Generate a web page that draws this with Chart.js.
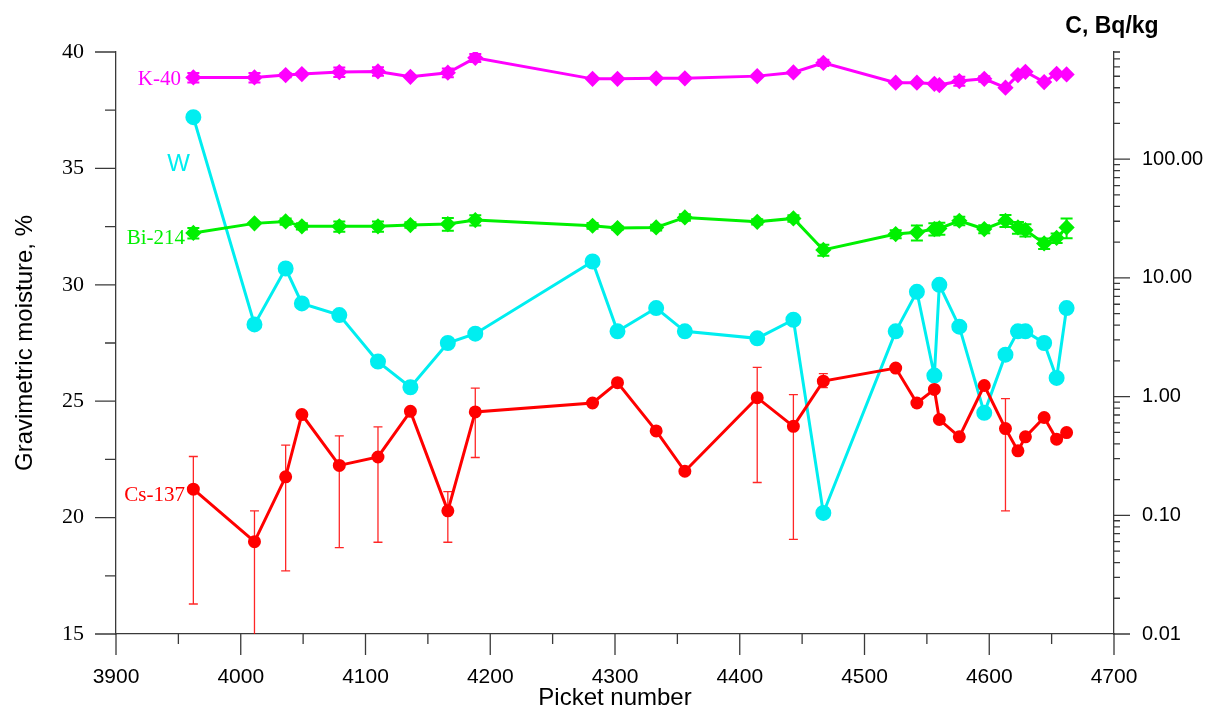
<!DOCTYPE html>
<html>
<head>
<meta charset="utf-8">
<script src="https://cdn.jsdelivr.net/npm/chart.js@4"></script>
<style>
  html, body { margin: 0; padding: 0; background: #fff; }
  #wrap { width: 1205px; height: 711px; }
</style>
</head>
<body>
<div id="wrap"><canvas id="chart" width="1205" height="711"></canvas></div>
<script>
// Picket numbers shared by all series
const pickets = [3962, 4011, 4036, 4049, 4079, 4110, 4136, 4166, 4188, 4282,
                 4302, 4333, 4356, 4414, 4443, 4467, 4525, 4542, 4556, 4560,
                 4576, 4596, 4613, 4623, 4629, 4644, 4654, 4662];

// Gravimetric moisture W, % (left axis)
const moisture = [37.2, 28.3, 30.7, 29.2, 28.7, 26.7, 25.6, 27.5, 27.9, 31.0,
                  28.0, 29.0, 28.0, 27.7, 28.5, 20.2, 28.0, 29.7, 26.1, 30.0,
                  28.2, 24.5, 27.0, 28.0, 28.0, 27.5, 26.0, 29.0];

// Cs-137, Bq/kg (right axis) with error limits (null = no bar)
const cs137   = [0.166, 0.060, 0.211, 0.706, 0.263, 0.310, 0.751, 0.109, 0.743, 0.883,
                 1.31, 0.514, 0.235, 0.980, 0.562, 1.35, 1.74, 0.883, 1.15, 0.641,
                 0.458, 1.24, 0.538, 0.349, 0.458, 0.667, 0.438, 0.498];
const cs137Hi = [0.313, 0.109, 0.390, null, 0.467, 0.556, null, 0.158, 1.18, null,
                 null, null, null, 1.76, 1.04, 1.56, null, 0.95, null, null,
                 null, null, 0.962, null, null, null, null, null];
const cs137Lo = [0.0179, 0.009, 0.034, null, 0.0534, 0.0593, null, 0.0593, 0.307, null,
                 null, null, null, 0.189, 0.0628, 1.19, null, 0.82, null, null,
                 null, null, 0.109, null, null, null, null, null];

// Bi-214, Bq/kg and its error
const bi214    = [23.9, 28.8, 29.9, 27.2, 27.2, 27.2, 27.9, 28.4, 30.7, 27.5,
                  26.3, 26.6, 32.3, 29.7, 31.7, 17.2, 23.4, 24.2, 25.8, 26.1,
                  30.3, 25.8, 30.3, 26.6, 25.3, 19.5, 21.7, 26.6];
const bi214Err = [2.4, 0, 1.8, 1.6, 2.7, 2.7, 1.5, 3.5, 3.0, 1.5,
                  1.0, 1.5, 2.0, 1.5, 2.0, 1.8, 1.8, 3.5, 3.0, 3.0,
                  2.5, 2.0, 3.5, 3.0, 3.0, 2.0, 2.0, 5.0];

// K-40, Bq/kg and its error
const k40    = [488, 488, 511, 521, 542, 549, 494, 535, 714, 475,
                475, 480, 480, 501, 538, 649, 441, 441, 432, 421,
                455, 475, 400, 511, 545, 447, 524, 518];
const k40Err = [45, 45, 20, 0, 50, 45, 0, 45, 55, 0,
                0, 0, 0, 0, 0, 40, 0, 0, 0, 0,
                40, 25, 0, 0, 0, 0, 0, 0];

const xTickValues = [3900, 4000, 4100, 4200, 4300, 4400, 4500, 4600, 4700];
const leftTickValues = [15, 20, 25, 30, 35, 40];
const rightTickValues = [0.01, 0.1, 1, 10, 100];
const rightTickLabels = ['0.01', '0.10', '1.00', '10.00', '100.00'];

const RED = '#ff0000', CYAN = '#00eef0', GREEN = '#00f000', MAGENTA = '#ff00ff';
const AXIS = '#3a3a3a';

function pts(values) {
  return pickets.map((p, i) => ({ x: p, y: values[i] }));
}

// error bars drawn through the chart scales
const errorBars = {
  id: 'errorBars',
  beforeDatasetsDraw(chart) {
    const ctx = chart.ctx, xs = chart.scales.x, ys = chart.scales.yC, a = chart.chartArea;
    const sets = [
      { hi: cs137Hi, lo: cs137Lo, color: 'rgba(255,0,0,0.85)', w: 1.3, cap: 4.5 },
      { hi: bi214.map((v, i) => bi214Err[i] ? v + bi214Err[i] : null),
        lo: bi214.map((v, i) => bi214Err[i] ? v - bi214Err[i] : null), color: GREEN, w: 2, cap: 6 },
      { hi: k40.map((v, i) => k40Err[i] ? v + k40Err[i] : null),
        lo: k40.map((v, i) => k40Err[i] ? v - k40Err[i] : null), color: MAGENTA, w: 2, cap: 6 }
    ];
    ctx.save();
    ctx.beginPath();
    ctx.rect(a.left, a.top - 10, a.right - a.left, a.bottom - a.top + 10);
    ctx.clip();
    sets.forEach(s => {
      ctx.strokeStyle = s.color;
      ctx.lineWidth = s.w;
      pickets.forEach((p, i) => {
        if (s.hi[i] == null) return;
        const px = xs.getPixelForValue(p);
        const t = ys.getPixelForValue(s.hi[i]);
        const b = Math.min(ys.getPixelForValue(s.lo[i]), a.bottom);
        ctx.beginPath();
        ctx.moveTo(px, t); ctx.lineTo(px, b);
        ctx.moveTo(px - s.cap, t); ctx.lineTo(px + s.cap, t);
        if (b < a.bottom) { ctx.moveTo(px - s.cap, b); ctx.lineTo(px + s.cap, b); }
        ctx.stroke();
      });
    });
    ctx.restore();
  }
};

// tick marks, axis titles and series labels
const decorations = {
  id: 'decorations',
  afterDraw(chart) {
    const ctx = chart.ctx, a = chart.chartArea;
    const xs = chart.scales.x, yW = chart.scales.yW, yC = chart.scales.yC;
    ctx.save();
    ctx.strokeStyle = AXIS;
    ctx.lineWidth = 1.3;
    ctx.beginPath();
    for (let v = 15; v <= 40; v += 2.5) {
      const py = yW.getPixelForValue(v);
      ctx.moveTo(a.left, py); ctx.lineTo(a.left - (v % 5 === 0 ? 21 : 11), py);
    }
    for (let v = 3900; v <= 4700; v += 50) {
      const px = xs.getPixelForValue(v);
      ctx.moveTo(px, a.bottom); ctx.lineTo(px, a.bottom + (v % 100 === 0 ? 21 : 10));
    }
    for (let d = 0.01; d < 1000; d *= 10) {
      for (let m = 1; m <= 9; m++) {
        const v = m * d;
        if (v > 800.001) break;
        const py = yC.getPixelForValue(v);
        ctx.moveTo(a.right, py); ctx.lineTo(a.right + (m === 1 ? 16 : 6), py);
      }
    }
    ctx.stroke();

    ctx.fillStyle = '#000';
    ctx.font = '24px "Liberation Sans", Arial';
    ctx.textAlign = 'center';
    ctx.textBaseline = 'middle';
    ctx.fillText('Picket number', (a.left + a.right) / 2, 698);
    ctx.save();
    ctx.translate(25, (a.top + a.bottom) / 2);
    ctx.rotate(-Math.PI / 2);
    ctx.fillText('Gravimetric moisture, %', 0, 0);
    ctx.restore();
    ctx.font = 'bold 23px "Liberation Sans", Arial';
    ctx.fillText('C, Bq/kg', 1112, 27);

    ctx.textAlign = 'right';
    ctx.font = '21px "Liberation Serif", "Times New Roman"';
    ctx.fillStyle = MAGENTA; ctx.fillText('K-40', 181, 79);
    ctx.fillStyle = GREEN; ctx.fillText('Bi-214', 185, 238);
    ctx.fillStyle = RED; ctx.fillText('Cs-137', 185, 495);
    ctx.font = '24px "Liberation Sans", Arial';
    ctx.fillStyle = CYAN; ctx.fillText('W', 190, 164);
    ctx.restore();
  }
};

Chart.defaults.font.family = '"Liberation Sans", Arial';
Chart.defaults.color = '#000';

new Chart(document.getElementById('chart'), {
  type: 'line',
  data: {
    datasets: [
      { label: 'Cs-137', data: pts(cs137), yAxisID: 'yC', borderColor: RED, backgroundColor: RED,
        borderWidth: 3, pointRadius: 5, pointStyle: 'circle', tension: 0 },
      { label: 'Bi-214', data: pts(bi214), yAxisID: 'yC', borderColor: GREEN, backgroundColor: GREEN,
        borderWidth: 3, pointRadius: 6, pointStyle: 'rectRot', tension: 0 },
      { label: 'K-40', data: pts(k40), yAxisID: 'yC', borderColor: MAGENTA, backgroundColor: MAGENTA,
        borderWidth: 3, pointRadius: 6, pointStyle: 'rectRot', tension: 0 },
      { label: 'W', data: pts(moisture), yAxisID: 'yW', borderColor: CYAN, backgroundColor: CYAN,
        borderWidth: 3, pointRadius: 6.5, pointStyle: 'circle', tension: 0 }
    ]
  },
  options: {
    responsive: false,
    animation: false,
    devicePixelRatio: 1,
    layout: { padding: { top: 52, left: 0, right: 0, bottom: 0 } },
    plugins: { legend: { display: false }, tooltip: { enabled: false } },
    scales: {
      x: {
        type: 'linear', position: 'bottom', min: 3900, max: 4700,
        afterFit: s => { s.height = 77; },
        afterBuildTicks: s => { s.ticks = xTickValues.map(v => ({ value: v })); },
        grid: { display: false, drawTicks: false },
        border: { display: true, color: AXIS, width: 1.3 },
        ticks: { padding: 31, font: { size: 21 }, maxRotation: 0, autoSkip: false, callback: v => String(v) }
      },
      yW: {
        type: 'linear', position: 'left', min: 15, max: 40,
        afterFit: s => { s.width = 116; },
        afterBuildTicks: s => { s.ticks = leftTickValues.map(v => ({ value: v })); },
        grid: { display: false, drawTicks: false },
        border: { display: true, color: AXIS, width: 1.3 },
        ticks: { padding: 32, font: { size: 22, family: '"Liberation Serif", "Times New Roman"' }, callback: v => String(v) }
      },
      yC: {
        type: 'logarithmic', position: 'right', min: 0.01, max: 800,
        afterFit: s => { s.width = 91; },
        afterBuildTicks: s => { s.ticks = rightTickValues.map(v => ({ value: v })); },
        grid: { display: false, drawTicks: false },
        border: { display: true, color: AXIS, width: 1.3 },
        ticks: { padding: 28, font: { size: 20 }, autoSkip: false,
                 callback: (v, i) => rightTickLabels[i] }
      }
    }
  },
  plugins: [errorBars, decorations]
});
</script>
</body>
</html>
